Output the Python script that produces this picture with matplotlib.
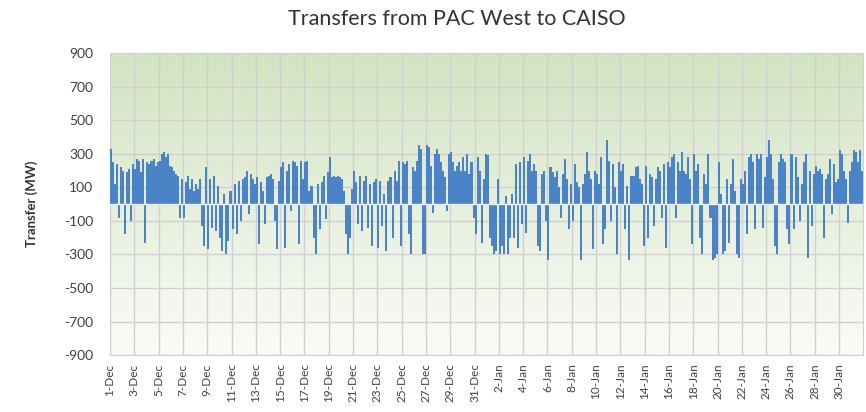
import numpy as np
import matplotlib.pyplot as plt
from matplotlib.colors import LinearSegmentedColormap

# transfers in MW, six 4-hour blocks per day
dec_mw = [
    330, 250, 120, 240, -80, 220,
    200, -180, 190, 210, -100, 240,
    210, 270, 260, 190, 270, -230,
    250, 240, 260, 270, 230, 250,
    260, 300, 310, 280, 300, 230,
    220, 200, 180, 170, -80, 150,
    -80, 130, 170, 90, 150, 80,
    120, 90, 150, -130, -250, 220,
    -270, 150, -140, 170, -160, 110,
    -200, -280, 60, -300, -220, 80,
    -150, 120, -180, 140, -100, 150,
    160, 200, -60, 180, 150, 120,
    160, -240, 130, 80, -120, 160,
    170, 180, 150, -100, -270, 140,
    220, 250, -260, 200, 240, -40,
    260, 250, 230, -240, 260, 150,
    250, 260, 80, 110, -200, -300,
    120, -150, 130, 170, -90, 190,
    280, 160, 170, 160, 170, 160,
    150, 80, -180, -300, -200, 90,
    200, 130, -120, 170, -160, 140,
    170, -140, 120, -250, 130, 150,
    -260, 140, -130, 60, -280, 140,
    160, -200, 200, 140, 260, -250,
    250, 240, 260, -180, -300, 220,
    200, 260, 350, 330, -300, -300,
    350, 340, 230, -50, 300, 330,
    300, 250, 200, 160, -40, 300,
    310, 250, 200, 230, 250, 200,
    280, 200, 300, 180, 250, -80,
    -180, 280, 200, -230, 150, 300,
]

jan_mw = [
    290, -200, -250, -300, -280, 150,
    -300, -250, -300, 50, -300, -200,
    60, -200, 240, -260, 250, -120,
    280, -170, 260, 300, 200, 240,
    200, -250, -280, 180, 200, -100,
    -330, 220, 190, 160, 200, 100,
    -80, 180, 270, 150, -150, 120,
    -100, 240, 130, 100, -330, 120,
    180, 310, 200, 150, -270, 200,
    180, 120, 280, -240, -150, 380,
    260, -100, 240, 100, -300, 250,
    200, 240, -150, 110, -330, 170,
    170, 220, 230, 150, 120, -250,
    230, -200, 180, 160, -130, 150,
    220, 200, -80, 240, -260, 250,
    220, 280, 300, -80, 250, 200,
    310, 200, 180, 280, 150, -240,
    300, 200, 240, -200, -300, 180,
    120, 300, -80, -330, -320, -300,
    250, 60, -300, -280, 150, -230,
    120, 270, 80, -300, -320, 150,
    120, 200, -180, 280, 300, 250,
    -150, 300, 270, 300, -140, 160,
    280, 380, 300, 150, -250, -300,
    250, 300, 270, 250, -150, -240,
    300, -150, 280, 160, -100, 120,
    250, 300, -320, 200, -130, 180,
    230, 200, 210, 180, -200, 150,
    180, 270, -60, 240, 130, 150,
    320, 300, 200, 150, -110, 200,
    250, 320, 310, 250, 320, 200,
]

tick_labels = [
    "1-Dec", "3-Dec", "5-Dec", "7-Dec", "9-Dec", "11-Dec", "13-Dec", "15-Dec",
    "17-Dec", "19-Dec", "21-Dec", "23-Dec", "25-Dec", "27-Dec", "29-Dec",
    "31-Dec", "2-Jan", "4-Jan", "6-Jan", "8-Jan", "10-Jan", "12-Jan", "14-Jan",
    "16-Jan", "18-Jan", "20-Jan", "22-Jan", "24-Jan", "26-Jan", "28-Jan",
    "30-Jan",
]
y_ticks = [-900, -700, -500, -300, -100, 100, 300, 500, 700, 900]

plt.rcParams["font.family"] = ["Lato", "DejaVu Sans"]

values = np.array(dec_mw + jan_mw)
block = 4 / 24  # days per value
edges = np.arange(len(values) + 1) * block
n_days = edges[-1]

fig = plt.figure(figsize=(8.66, 4.12), dpi=100)
ax = fig.add_axes([0.127, 0.138, 0.870, 0.733])

# green to white gradient background
cmap = LinearSegmentedColormap.from_list("bg", ["#fbfcf9", "#e6efdc", "#d2e4c2"])
grad = np.linspace(0, 1, 256).reshape(-1, 1)
ax.imshow(grad, cmap=cmap, aspect="auto", origin="lower",
          extent=(0, n_days, -900, 900), zorder=0)

# bars drawn as filled steps so neighbouring blocks touch
ax.stairs(values, edges, baseline=0, fill=True, color="#4a83c6", zorder=3)
ax.axhline(0, color="#e8eef0", linewidth=1.0, zorder=4)

ax.set_xlim(0, n_days)
ax.set_ylim(-900, 900)
ax.set_yticks(y_ticks)
ax.set_yticklabels([str(v) for v in y_ticks], fontsize=10, color="#404040")
ax.set_xticks(np.arange(0, 61, 2))
ax.set_xticklabels(tick_labels, rotation=90, fontsize=8.5, color="#404040")
ax.tick_params(axis="y", length=0, pad=12)
ax.tick_params(axis="x", length=0, pad=6)

ax.grid(True, color="#d0d0d0", linewidth=1.0, zorder=1)
ax.set_axisbelow(True)
for s in ax.spines.values():
    s.set_color("#d0d0d0")

ax.set_ylabel("Transfer (MW)", fontsize=9.5, fontweight="bold", color="#333333",
              labelpad=19)
fig.text(0.528, 0.955, "Transfers from PAC West to CAISO", ha="center",
         va="center", fontsize=15.5, color="#333333")

fig.savefig("out.png", dpi=100)
